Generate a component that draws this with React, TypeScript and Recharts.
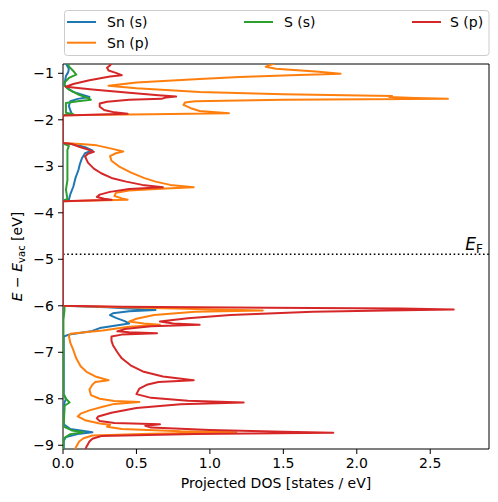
import React from 'react';
import { ScatterChart, Scatter, XAxis, YAxis, ReferenceLine } from 'recharts';

// [energy (eV), projected DOS (states/eV)]
const snS: number[][] = [
  [-0.75, 0.02], [-0.82, 0.025], [-0.9, 0.04], [-0.98, 0.035], [-1.06, 0.02], [-1.15, 0.015], [-1.25, 0.01],
  [-1.32, 0.03], [-1.4, 0.07], [-1.46, 0.13], [-1.51, 0.18], [-1.55, 0.1], [-1.6, 0.05], [-1.7, 0.04],
  [-1.8, 0.05], [-1.87, 0.06], [-1.9, 0],
  [-2.5, 0], [-2.53, 0.08], [-2.59, 0.15], [-2.66, 0.2], [-2.72, 0.15], [-2.82, 0.13], [-2.95, 0.115],
  [-3.08, 0.105], [-3.25, 0.085], [-3.44, 0.07], [-3.6, 0.05], [-3.72, 0.04], [-3.75, 0],
  [-6.0, 0], [-6.03, 0.3], [-6.09, 0.63], [-6.12, 0.45], [-6.16, 0.34], [-6.2, 0.32], [-6.26, 0.36],
  [-6.33, 0.42], [-6.38, 0.45], [-6.43, 0.35], [-6.48, 0.25], [-6.55, 0.19], [-6.59, 0.1], [-6.62, 0.04],
  [-6.66, 0.005], [-7.9, 0.005], [-8.0, 0.02], [-8.08, 0.01], [-8.55, 0.005], [-8.65, 0.05], [-8.72, 0.2],
  [-8.76, 0.1], [-8.82, 0.02], [-8.9, 0.005], [-9.2, 0.005],
];

const snP: number[][] = [
  [-0.75, 1.47], [-0.8, 1.43], [-0.83, 1.4], [-0.86, 1.38], [-0.9, 1.45], [-0.96, 1.72], [-1.01, 1.89],
  [-1.04, 1.55], [-1.08, 1.2], [-1.12, 0.93], [-1.2, 0.5], [-1.27, 0.31], [-1.32, 0.5], [-1.4, 0.93],
  [-1.45, 1.5], [-1.49, 2.24], [-1.51, 2.22], [-1.53, 2.4], [-1.55, 2.62], [-1.57, 1.5], [-1.6, 0.9],
  [-1.63, 0.83], [-1.68, 0.82], [-1.75, 0.87], [-1.81, 0.93], [-1.86, 1.13], [-1.88, 0.6], [-1.9, 0],
  [-2.5, 0], [-2.52, 0.12], [-2.55, 0.23], [-2.62, 0.33], [-2.68, 0.41], [-2.72, 0.36], [-2.78, 0.32],
  [-2.88, 0.33], [-3.0, 0.38], [-3.13, 0.46], [-3.25, 0.55], [-3.33, 0.63], [-3.4, 0.73], [-3.45, 0.89],
  [-3.48, 0.7], [-3.52, 0.45], [-3.57, 0.36], [-3.64, 0.35], [-3.69, 0.4], [-3.72, 0.44], [-3.75, 0],
  [-6.0, 0], [-6.03, 0.4], [-6.07, 0.9], [-6.1, 1.36], [-6.13, 0.9], [-6.2, 0.62], [-6.28, 0.5],
  [-6.34, 0.45], [-6.38, 0.55], [-6.41, 0.66], [-6.45, 0.45], [-6.53, 0.27], [-6.57, 0.15], [-6.6, 0.05],
  [-6.65, 0.04], [-6.8, 0.05], [-6.95, 0.07], [-7.13, 0.09], [-7.3, 0.12], [-7.42, 0.16], [-7.52, 0.22],
  [-7.6, 0.31], [-7.64, 0.22], [-7.7, 0.2], [-7.8, 0.18], [-7.92, 0.19], [-8.0, 0.25], [-8.05, 0.35],
  [-8.07, 0.52], [-8.11, 0.35], [-8.17, 0.27], [-8.25, 0.18], [-8.32, 0.12], [-8.38, 0.1], [-8.46, 0.15],
  [-8.53, 0.25], [-8.56, 0.32], [-8.6, 0.3], [-8.65, 0.4], [-8.7, 0.8], [-8.72, 1.18], [-8.75, 0.6],
  [-8.79, 0.2], [-8.85, 0.14], [-8.92, 0.11], [-9.03, 0.09], [-9.2, 0.07],
];

const sS: number[][] = [
  [-0.75, 0.03], [-0.85, 0.04], [-0.95, 0.07], [-1.03, 0.09], [-1.1, 0.04], [-1.2, 0.01], [-1.27, 0.01],
  [-1.35, 0.04], [-1.45, 0.1], [-1.53, 0.17], [-1.57, 0.19], [-1.6, 0.1], [-1.64, 0.02], [-1.85, 0.02],
  [-1.88, 0.07], [-1.9, 0],
  [-2.5, 0], [-2.52, 0.01], [-2.56, 0.04], [-2.65, 0.03], [-2.8, 0.03], [-3.3, 0.03], [-3.5, 0.02],
  [-3.7, 0.03], [-3.74, 0],
  [-6.0, 0], [-6.02, 0.01], [-6.1, 0.01], [-6.3, 0.003], [-7.9, 0.003], [-8.0, 0.02], [-8.08, 0.045],
  [-8.15, 0.01], [-8.6, 0.005], [-8.68, 0.06], [-8.72, 0.14], [-8.76, 0.05], [-8.85, 0.005], [-9.2, 0],
];

const sP: number[][] = [
  [-0.75, 0.34], [-0.83, 0.32], [-0.88, 0.3], [-0.94, 0.31], [-0.99, 0.36], [-1.04, 0.4], [-1.07, 0.32],
  [-1.15, 0.18], [-1.23, 0.07], [-1.29, 0.02], [-1.35, 0.2], [-1.42, 0.45], [-1.47, 0.65], [-1.5, 0.77],
  [-1.52, 0.7], [-1.55, 0.67], [-1.57, 0.45], [-1.61, 0.3], [-1.65, 0.25], [-1.72, 0.25], [-1.79, 0.28],
  [-1.84, 0.35], [-1.87, 0.44], [-1.89, 0.2], [-1.91, 0],
  [-2.5, 0], [-2.52, 0.06], [-2.58, 0.11], [-2.64, 0.17], [-2.69, 0.21], [-2.73, 0.17], [-2.79, 0.15],
  [-2.92, 0.17], [-3.05, 0.21], [-3.15, 0.26], [-3.25, 0.33], [-3.33, 0.43], [-3.4, 0.54], [-3.45, 0.68],
  [-3.49, 0.45], [-3.55, 0.32], [-3.61, 0.25], [-3.66, 0.23], [-3.7, 0.28], [-3.72, 0.33], [-3.75, 0],
  [-6.0, 0], [-6.02, 0.4], [-6.04, 1.4], [-6.06, 2.3], [-6.08, 2.66], [-6.1, 2.2], [-6.13, 1.7],
  [-6.2, 1.14], [-6.27, 0.85], [-6.34, 0.66], [-6.38, 0.75], [-6.41, 0.93], [-6.44, 0.6], [-6.5, 0.42],
  [-6.55, 0.37], [-6.57, 0.45], [-6.59, 0.64], [-6.62, 0.4], [-6.66, 0.33], [-6.75, 0.33], [-6.85, 0.34],
  [-7.0, 0.37], [-7.13, 0.4], [-7.28, 0.46], [-7.42, 0.55], [-7.52, 0.68], [-7.6, 0.89], [-7.64, 0.65],
  [-7.7, 0.57], [-7.78, 0.52], [-7.9, 0.5], [-7.98, 0.6], [-8.04, 0.85], [-8.08, 1.23], [-8.12, 0.8],
  [-8.2, 0.5], [-8.3, 0.33], [-8.38, 0.24], [-8.42, 0.23], [-8.48, 0.25], [-8.52, 0.35], [-8.55, 0.66],
  [-8.58, 0.56], [-8.62, 0.6], [-8.67, 1.0], [-8.71, 1.5], [-8.73, 1.84], [-8.76, 0.9], [-8.8, 0.26],
  [-8.86, 0.2], [-8.92, 0.18], [-9.03, 0.16], [-9.2, 0.14],
];

const seriesNames = ['Sn (s)', 'Sn (p)', 'S (s)', 'S (p)'];
const seriesColors = ['#1f77b4', '#ff7f0e', '#2ca02c', '#d62728'];
const seriesData = [snS, snP, sS, sP];

const xTicks = [0, 0.5, 1.0, 1.5, 2.0, 2.5];
const yTicks = [-9, -8, -7, -6, -5, -4, -3, -2, -1];
const xDomain = [0, 2.9];
const yDomain = [-9.08, -0.8];
const fermiLevel = -4.89;

const FONT = '"DejaVu Sans", sans-serif';

const toPoints = (arr: number[][]) => arr.map(([e, d]) => ({ e, d }));
const noShape = () => <g />;

const XLabel = (props: any) => {
  const vb = props.viewBox || { x: 63, y: 449, width: 426, height: 30 };
  return (
    <text x={vb.x + vb.width / 2} y={vb.y + 39} textAnchor="middle" fontSize={14} fontFamily={FONT} fill="#000">
      Projected DOS [states / eV]
    </text>
  );
};

const YLabel = (props: any) => {
  const vb = props.viewBox || { x: 13, y: 64, width: 50, height: 385 };
  const cx = vb.x + 9;
  const cy = vb.y + vb.height / 2;
  return (
    <text x={cx} y={cy} transform={`rotate(-90, ${cx}, ${cy})`} textAnchor="middle" fontSize={14} fontFamily={FONT} fill="#000">
      <tspan fontStyle="italic">E</tspan>
      <tspan> − </tspan>
      <tspan fontStyle="italic">E</tspan>
      <tspan fontSize={10} dy={3}>vac</tspan>
      <tspan dy={-3}> [eV]</tspan>
    </text>
  );
};

const EFLabel = (props: any) => {
  const vb = props.viewBox || { x: 63, y: 254, width: 426, height: 0 };
  return (
    <text x={vb.x + vb.width - 6} y={vb.y - 4} textAnchor="end" fontSize={17} fontFamily={FONT} fill="#000">
      <tspan fontStyle="italic">E</tspan>
      <tspan fontSize={12} dy={2.5}>F</tspan>
    </text>
  );
};

const legendCols = [
  { idx: [0, 1], hx: 67, tx: 107 },
  { idx: [2], hx: 244, tx: 284 },
  { idx: [3], hx: 412, tx: 450 },
];
const legendRows = [22, 42.7];

export default function App() {
  return (
    <div style={{ position: 'fixed', left: 0, top: 0, width: 498, height: 502, background: '#fff' }}>
      <ScatterChart width={498} height={502} margin={{ top: 64, right: 9, bottom: 23, left: 13 }}>
        <XAxis
          type="number"
          dataKey="d"
          domain={xDomain}
          ticks={xTicks}
          allowDataOverflow
          height={30}
          tickSize={5}
          tickMargin={4}
          stroke="#000"
          tickFormatter={(v: number) => v.toFixed(1)}
          tick={{ fill: '#000', fontSize: 14, fontFamily: FONT }}
          label={XLabel}
        />
        <YAxis
          type="number"
          dataKey="e"
          domain={yDomain}
          ticks={yTicks}
          allowDataOverflow
          width={50}
          tickSize={5}
          tickMargin={4}
          stroke="#000"
          tickFormatter={(v: number) => String(v).replace('-', '\u2212')}
          tick={{ fill: '#000', fontSize: 14, fontFamily: FONT }}
          label={YLabel}
        />
        {seriesData.map((arr, i) => (
          <Scatter
            key={seriesNames[i]}
            name={seriesNames[i]}
            data={toPoints(arr)}
            fill={seriesColors[i]}
            line={{ stroke: seriesColors[i], strokeWidth: 2, strokeLinejoin: 'round' }}
            lineType="joint"
            shape={noShape}
            isAnimationActive={false}
          />
        ))}
        <ReferenceLine y={fermiLevel} stroke="#000" strokeWidth={1.6} strokeDasharray="1.6 2.6" label={EFLabel} />
        <ReferenceLine y={yDomain[1]} stroke="#000" strokeWidth={1} ifOverflow="visible" />
        <ReferenceLine x={xDomain[1]} stroke="#000" strokeWidth={1} ifOverflow="visible" />
      </ScatterChart>
      <svg width={498} height={60} style={{ position: 'absolute', left: 0, top: 0 }}>
        <rect x={64.5} y={10.5} width={424.5} height={45} rx={3} fill="#fff" fillOpacity={0.8} stroke="#cccccc" strokeWidth={1} />
        {legendCols.map((col) =>
          col.idx.map((si, r) => (
            <g key={seriesNames[si]}>
              <line x1={col.hx} x2={col.hx + 29} y1={legendRows[r]} y2={legendRows[r]} stroke={seriesColors[si]} strokeWidth={2} />
              <text x={col.tx} y={legendRows[r] + 5} fontSize={14} fontFamily={FONT} fill="#000">
                {seriesNames[si]}
              </text>
            </g>
          ))
        )}
      </svg>
    </div>
  );
}
